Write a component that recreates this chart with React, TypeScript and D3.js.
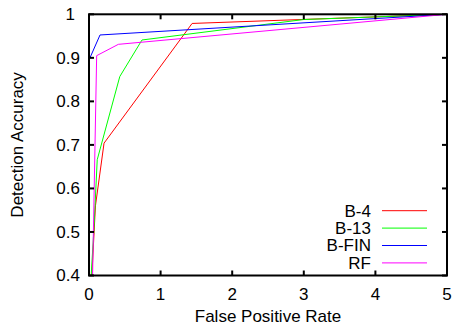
import React from "react";
import * as d3 from "d3";

const xTicks = [0, 1, 2, 3, 4, 5];
const yTicks = [0.4, 0.5, 0.6, 0.7, 0.8, 0.9, 1];
const yTickLabels = ["0.4", "0.5", "0.6", "0.7", "0.8", "0.9", "1"];

const seriesNames = ["B-4", "B-13", "B-FIN", "RF"];
const seriesColors = ["#ff0000", "#00ff00", "#0000ff", "#ff00ff"];

const b4X = [0.04, 0.09, 0.21, 1.44, 5];
const b4Y = [0.4, 0.56, 0.704, 0.979, 1];
const b13X = [0.03, 0.07, 0.115, 0.43, 0.74, 3.0, 5];
const b13Y = [0.4, 0.51, 0.666, 0.857, 0.941, 0.988, 1];
const bfinX = [0, 0.154, 5];
const bfinY = [0.895, 0.9525, 1];
const rfX = [0.05, 0.107, 0.41, 5];
const rfY = [0.4, 0.905, 0.931, 1];

const seriesX = [b4X, b13X, bfinX, rfX];
const seriesY = [b4Y, b13Y, bfinY, rfY];

export default function App() {
  const W = 453, H = 325;
  const left = 89, right = 447, top = 14.3, bottom = 275.5;
  const x = d3.scaleLinear().domain([0, 5]).range([left, right]);
  const y = d3.scaleLinear().domain([0.4, 1]).range([bottom, top]);
  const line = d3
    .line<[number, number]>()
    .x((d) => x(d[0]))
    .y((d) => y(d[1]));
  const font = "'Liberation Sans', Arial, sans-serif";
  const tl = 5;
  return (
    <svg
      width={W}
      height={H}
      style={{ position: "absolute", left: 0, top: 0, background: "#fff" }}
      fontFamily={font}
    >
      <rect x={0} y={0} width={W} height={H} fill="#fff" />
      {seriesNames.map((n, i) => (
        <path
          key={n}
          d={line(seriesX[i].map((v, j) => [v, seriesY[i][j]] as [number, number])) || ""}
          fill="none"
          stroke={seriesColors[i]}
          strokeWidth={1}
        />
      ))}
      {xTicks.map((t) => (
        <g key={"x" + t}>
          <line x1={x(t)} x2={x(t)} y1={bottom} y2={bottom - tl} stroke="#000" strokeWidth={2} />
          <line x1={x(t)} x2={x(t)} y1={top} y2={top + tl} stroke="#000" strokeWidth={2} />
          <text x={x(t)} y={300} fontSize={17} textAnchor="middle">
            {t}
          </text>
        </g>
      ))}
      {yTicks.map((t, i) => (
        <g key={"y" + t}>
          <line x1={left} x2={left + tl} y1={y(t)} y2={y(t)} stroke="#000" strokeWidth={2} />
          <line x1={right} x2={right - tl} y1={y(t)} y2={y(t)} stroke="#000" strokeWidth={2} />
          <text
            x={yTickLabels[i] === "1" ? 75 : 80}
            y={y(t)}
            dy="0.35em"
            fontSize={17}
            textAnchor="end"
          >
            {yTickLabels[i]}
          </text>
        </g>
      ))}
      <rect
        x={left}
        y={top}
        width={right - left}
        height={bottom - top}
        fill="none"
        stroke="#000"
        strokeWidth={2}
      />
      <text x={(left + right) / 2} y={321.5} fontSize={17} textAnchor="middle">
        False Positive Rate
      </text>
      <text
        transform={`translate(23,${(top + bottom) / 2}) rotate(-90)`}
        fontSize={17}
        textAnchor="middle"
      >
        Detection Accuracy
      </text>
      {seriesNames.map((n, i) => {
        const cy = 210.7 + i * 17.4;
        return (
          <g key={"lg" + n}>
            <text x={371} y={cy} dy="0.35em" fontSize={17} textAnchor="end">
              {n}
            </text>
            <line x1={382} x2={427} y1={cy} y2={cy} stroke={seriesColors[i]} strokeWidth={1} />
          </g>
        );
      })}
    </svg>
  );
}
